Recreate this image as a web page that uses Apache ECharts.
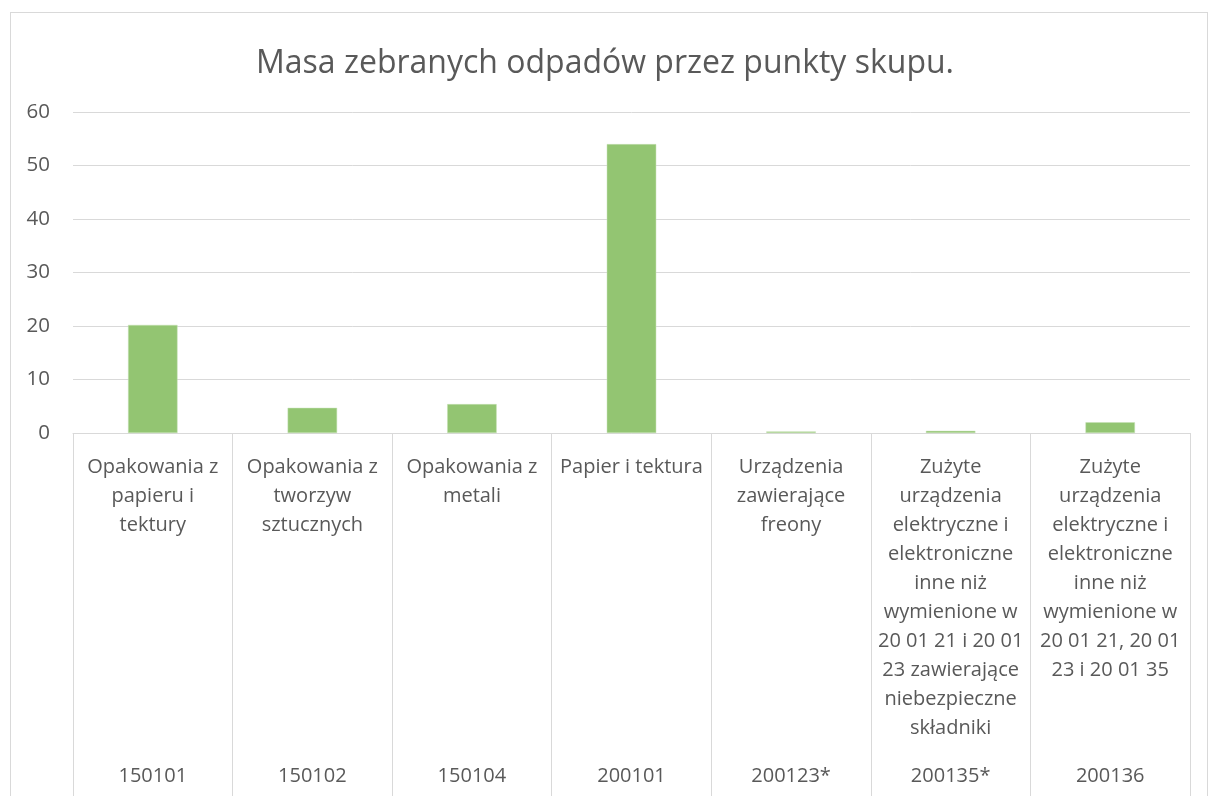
<!DOCTYPE html>
<html>
<head>
<meta charset="utf-8">
<script src="https://cdn.jsdelivr.net/npm/echarts@6/dist/echarts.min.js"></script>
<style>
html,body{margin:0;padding:0;background:#fff;}
#frame{position:absolute;left:10px;top:12px;width:1198px;height:790px;border:1px solid #d9d9d9;box-sizing:border-box;}
#chart{position:absolute;left:0;top:0;width:1210px;height:796px;}
</style>
</head>
<body>
<div id="frame"></div>
<div id="chart"></div>
<script>
const chartTitle = "Masa zebranych odpadów przez punkty skupu.";
const categoryNames = [
  "Opakowania z\npapieru i\ntektury",
  "Opakowania z\ntworzyw\nsztucznych",
  "Opakowania z\nmetali",
  "Papier i tektura",
  "Urządzenia\nzawierające\nfreony",
  "Zużyte\nurządzenia\nelektryczne i\nelektroniczne\ninne niż\nwymienione w\n20 01 21 i 20 01\n23 zawierające\nniebezpieczne\nskładniki",
  "Zużyte\nurządzenia\nelektryczne i\nelektroniczne\ninne niż\nwymienione w\n20 01 21, 20 01\n23 i 20 01 35"
];
const categoryCodes = ["150101", "150102", "150104", "200101", "200123*", "200135*", "200136"];
const massValues = [20.2, 4.7, 5.4, 54.0, 0.3, 0.4, 2.0];

const font = "'Open Sans', 'Noto Sans', sans-serif";
const chart = echarts.init(document.getElementById('chart'));
chart.setOption({
  backgroundColor: 'transparent',
  animation: false,
  title: {
    text: chartTitle,
    left: 'center',
    top: 43,
    textStyle: {fontFamily: font, fontSize: 32, fontWeight: 'normal', color: '#595959'}
  },
  grid: {left: 73, right: 20, top: 112, bottom: 363, containLabel: false},
  xAxis: [
    {
      type: 'category',
      data: categoryNames,
      position: 'bottom',
      axisLine: {show: true, lineStyle: {color: '#d9d9d9', width: 1}},
      axisTick: {show: true, alignWithLabel: false, interval: 0, length: 365, lineStyle: {color: '#d9d9d9', width: 1}},
      axisLabel: {
        interval: 0, margin: 20, fontFamily: font, fontSize: 20, color: '#595959',
        lineHeight: 29, verticalAlign: 'top', align: 'center'
      },
      splitLine: {show: false}
    },
    {
      type: 'category',
      data: categoryCodes,
      position: 'bottom',
      offset: 0,
      axisLine: {show: false},
      axisTick: {show: false},
      axisLabel: {interval: 0, margin: 333, fontFamily: font, fontSize: 20, color: '#595959', verticalAlign: 'top'}
    }
  ],
  yAxis: {
    type: 'value',
    min: 0, max: 60, interval: 10,
    axisLine: {show: false},
    axisTick: {show: false},
    axisLabel: {fontFamily: font, fontSize: 20.5, color: '#595959', margin: 23},
    splitLine: {lineStyle: {color: '#d9d9d9', width: 1}}
  },
  series: [{
    type: 'bar',
    data: massValues,
    xAxisIndex: 0,
    barWidth: '31%',
    itemStyle: {color: '#93c572', borderColor: '#c5e0b4', borderWidth: 0.5}
  }]
});
</script>
</body>
</html>
